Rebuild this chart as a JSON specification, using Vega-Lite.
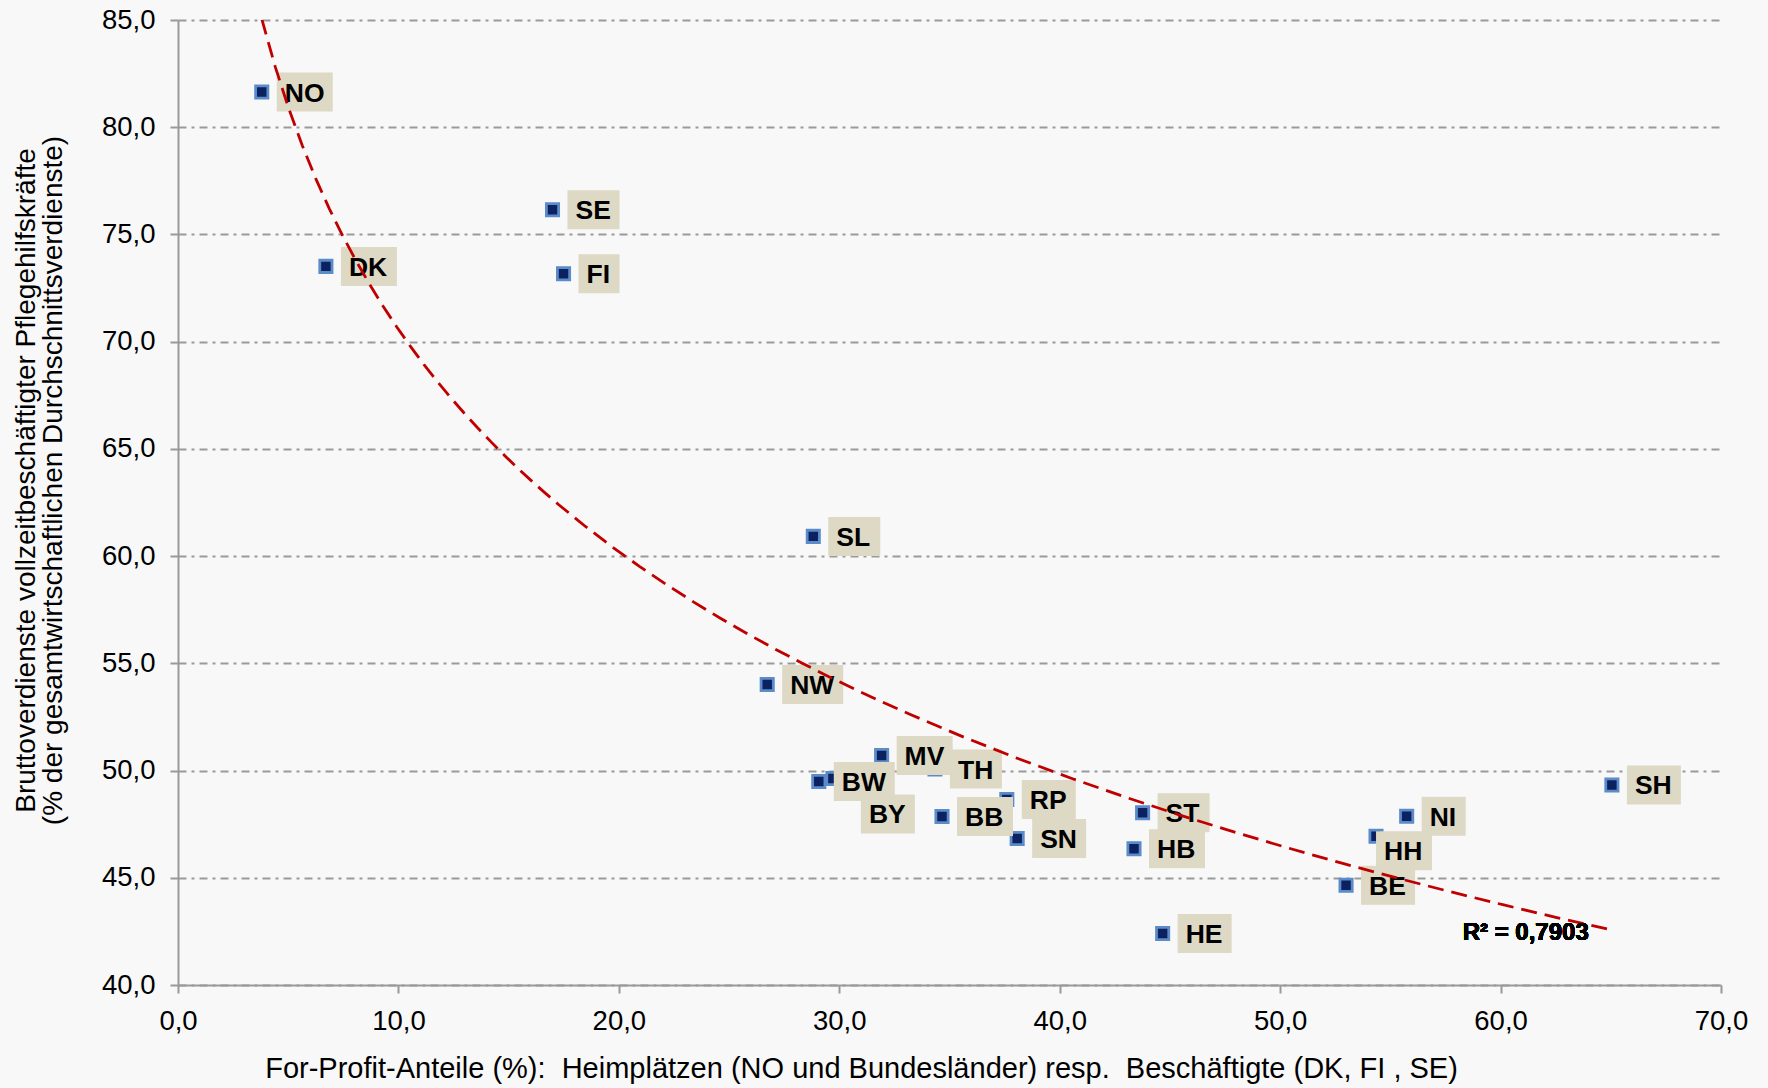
{
  "$schema": "https://vega.github.io/schema/vega-lite/v6.json",
  "width": 1543,
  "height": 965,
  "autosize": "none",
  "padding": {"left": 178, "top": 20, "right": 47, "bottom": 103},
  "background": "#f8f8f8",
  "config": {"view": {"stroke": null}, "font": "Liberation Sans"},
  "data": {"values": [
    {"label": "NO", "x": 3.80, "y": 81.64},
    {"label": "DK", "x": 6.71, "y": 73.51},
    {"label": "SE", "x": 16.99, "y": 76.15},
    {"label": "FI", "x": 17.49, "y": 73.17},
    {"label": "SL", "x": 28.82, "y": 60.92},
    {"label": "NW", "x": 26.73, "y": 54.01},
    {"label": "MV", "x": 31.92, "y": 50.70},
    {"label": "TH", "x": 34.34, "y": 50.07},
    {"label": "BW", "x": 29.07, "y": 49.49},
    {"label": "BY", "x": 29.71, "y": 49.63},
    {"label": "BB", "x": 34.66, "y": 47.86},
    {"label": "RP", "x": 37.60, "y": 48.65},
    {"label": "SN", "x": 38.07, "y": 46.83},
    {"label": "ST", "x": 43.76, "y": 48.03},
    {"label": "HB", "x": 43.37, "y": 46.35},
    {"label": "HE", "x": 44.67, "y": 42.40},
    {"label": "BE", "x": 52.99, "y": 44.65},
    {"label": "HH", "x": 54.35, "y": 46.94},
    {"label": "NI", "x": 55.74, "y": 47.87},
    {"label": "SH", "x": 65.05, "y": 49.33}
  ]},
  "encoding": {
    "x": {
      "field": "x", "type": "quantitative",
      "scale": {"domain": [0, 70], "nice": false, "zero": false},
      "axis": {
        "title": "For-Profit-Anteile (%):\u00a0 Heimplätzen (NO und Bundesländer) resp.\u00a0 Beschäftigte (DK, FI , SE)",
        "values": [0, 10, 20, 30, 40, 50, 60, 70],
        "format": ".1f",
        "labelExpr": "replace(datum.label, '.', ',')",
        "labelFont": "Liberation Sans",
        "labelFontSize": 27.5,
        "labelColor": "#000000",
        "labelPadding": 14,
        "labelFlush": false,
        "labelOverlap": false,
        "tickSize": 8,
        "tickColor": "#999999",
        "tickWidth": 2,
        "domainColor": "#999999",
        "domainWidth": 2,
        "grid": false,
        "titleFont": "Liberation Sans",
        "titleFontSize": 29,
        "titleFontWeight": "normal",
        "titleColor": "#000000",
        "titleX": 683,
        "titleY": 92,
        "titleAlign": "center",
        "titleBaseline": "alphabetic"
      }
    },
    "y": {
      "field": "y", "type": "quantitative",
      "scale": {"domain": [40, 85], "nice": false, "zero": false},
      "axis": {
        "title": ["Bruttoverdienste vollzeitbeschäftigter Pflegehilfskräfte", "(% der gesamtwirtschaftlichen Durchschnittsverdienste)"],
        "values": [40, 45, 50, 55, 60, 65, 70, 75, 80, 85],
        "format": ".1f",
        "labelExpr": "replace(datum.label, '.', ',')",
        "labelFont": "Liberation Sans",
        "labelFontSize": 27.5,
        "labelColor": "#000000",
        "labelPadding": 15,
        "labelFlush": false,
        "labelOverlap": false,
        "tickSize": 8,
        "tickColor": "#999999",
        "tickWidth": 2,
        "domainColor": "#999999",
        "domainWidth": 2,
        "grid": true,
        "gridColor": "#9a9a9a",
        "gridWidth": 2,
        "gridDash": [8, 5, 3, 5],
        "titleFont": "Liberation Sans",
        "titleFontSize": 28,
        "titleFontWeight": "normal",
        "titleColor": "#000000",
        "titleLineHeight": 27,
        "titleAngle": -90,
        "titleX": -152,
        "titleY": 460,
        "titleAlign": "center",
        "titleBaseline": "middle"
      }
    }
  },
  "layer": [
    {
      "mark": {"type": "point", "shape": "square", "filled": true, "size": 150, "fill": "#0b2160", "stroke": "#5b8bc8", "strokeWidth": 2.8, "opacity": 1}
    },
    {
      "transform": [{"filter": {"field": "label", "oneOf": ["FI"]}}],
      "mark": {"type": "rect", "color": "#ddd9c4", "xOffset": 15, "x2Offset": 56, "yOffset": -19.5, "y2Offset": 19.5},
      "encoding": {"x2": {"field": "x"}, "y2": {"field": "y"}}
    },
    {
      "transform": [{"filter": {"field": "label", "oneOf": ["NI"]}}],
      "mark": {"type": "rect", "color": "#ddd9c4", "xOffset": 15, "x2Offset": 59, "yOffset": -19.5, "y2Offset": 19.5},
      "encoding": {"x2": {"field": "x"}, "y2": {"field": "y"}}
    },
    {
      "transform": [{"filter": {"field": "label", "oneOf": ["SL", "ST", "SE", "TH"]}}],
      "mark": {"type": "rect", "color": "#ddd9c4", "xOffset": 15, "x2Offset": 67, "yOffset": -19.5, "y2Offset": 19.5},
      "encoding": {"x2": {"field": "x"}, "y2": {"field": "y"}}
    },
    {
      "transform": [{"filter": {"field": "label", "oneOf": ["RP", "SN", "HE", "BE", "SH"]}}],
      "mark": {"type": "rect", "color": "#ddd9c4", "xOffset": 15, "x2Offset": 69, "yOffset": -19.5, "y2Offset": 19.5},
      "encoding": {"x2": {"field": "x"}, "y2": {"field": "y"}}
    },
    {
      "transform": [{"filter": {"field": "label", "oneOf": ["NO", "DK", "MV", "BB", "HB"]}}],
      "mark": {"type": "rect", "color": "#ddd9c4", "xOffset": 15, "x2Offset": 71, "yOffset": -19.5, "y2Offset": 19.5},
      "encoding": {"x2": {"field": "x"}, "y2": {"field": "y"}}
    },
    {
      "transform": [{"filter": {"field": "label", "oneOf": ["NW", "BW"]}}],
      "mark": {"type": "rect", "color": "#ddd9c4", "xOffset": 15, "x2Offset": 76, "yOffset": -19.5, "y2Offset": 19.5},
      "encoding": {"x2": {"field": "x"}, "y2": {"field": "y"}}
    },
    {
      "transform": [{"filter": {"field": "label", "oneOf": ["BY"]}}],
      "mark": {"type": "rect", "color": "#ddd9c4", "xOffset": 28, "x2Offset": 82, "yOffset": 16, "y2Offset": 55},
      "encoding": {"x2": {"field": "x"}, "y2": {"field": "y"}}
    },
    {
      "transform": [{"filter": {"field": "label", "oneOf": ["HH"]}}],
      "mark": {"type": "rect", "color": "#ddd9c4", "xOffset": 0, "x2Offset": 56, "yOffset": -5, "y2Offset": 34},
      "encoding": {"x2": {"field": "x"}, "y2": {"field": "y"}}
    },
    {
      "transform": [{"filter": {"not": {"field": "label", "oneOf": ["BY", "HH"]}}}],
      "mark": {"type": "text", "align": "left", "baseline": "middle", "xOffset": 23, "yOffset": 1.5, "font": "Liberation Sans", "fontSize": 26.5, "fontWeight": "bold", "color": "#000000"},
      "encoding": {"text": {"field": "label"}}
    },
    {
      "transform": [{"filter": {"field": "label", "oneOf": ["BY"]}}],
      "mark": {"type": "text", "align": "left", "baseline": "middle", "xOffset": 36, "yOffset": 37, "font": "Liberation Sans", "fontSize": 26.5, "fontWeight": "bold", "color": "#000000"},
      "encoding": {"text": {"field": "label"}}
    },
    {
      "transform": [{"filter": {"field": "label", "oneOf": ["HH"]}}],
      "mark": {"type": "text", "align": "left", "baseline": "middle", "xOffset": 8, "yOffset": 16, "font": "Liberation Sans", "fontSize": 26.5, "fontWeight": "bold", "color": "#000000"},
      "encoding": {"text": {"field": "label"}}
    },
    {
      "transform": [{"regression": "y", "on": "x", "method": "log"}],
      "mark": {"type": "line", "color": "#c00000", "strokeWidth": 2.8, "strokeDash": [16, 8], "clip": true}
    },
    {
      "mark": {"type": "text", "align": "left", "baseline": "alphabetic", "font": "Liberation Sans", "fontSize": 24, "fontWeight": "bold", "color": "#000000", "text": "R² = 0,7903"},
      "encoding": {"x": {"datum": 58.28, "type": "quantitative"}, "y": {"datum": 42.12, "type": "quantitative"}}
    }
  ]
}
